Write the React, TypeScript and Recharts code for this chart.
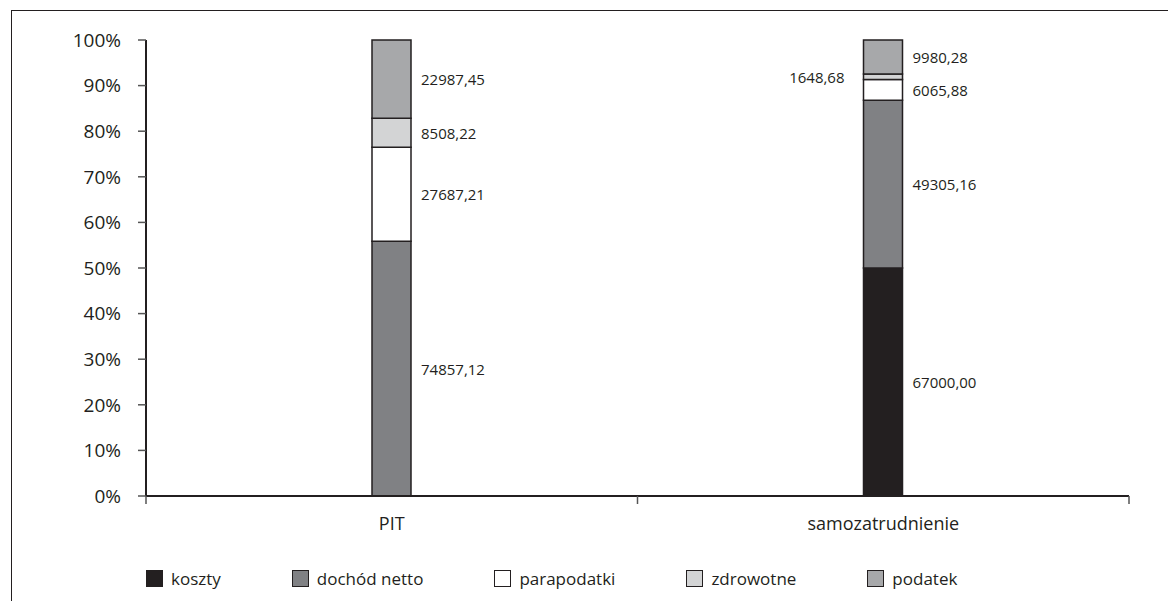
import React from 'react';
import { BarChart, Bar, XAxis, YAxis, Legend, LabelList } from 'recharts';

// Income split per form of employment (PLN)
const categories = ['PIT', 'samozatrudnienie'];
const koszty = [0, 67000.0];
const dochodNetto = [74857.12, 49305.16];
const parapodatki = [27687.21, 6065.88];
const zdrowotne = [8508.22, 1648.68];
const podatek = [22987.45, 9980.28];
const yTicks = [0, 0.1, 0.2, 0.3, 0.4, 0.5, 0.6, 0.7, 0.8, 0.9, 1];

const INK = '#231f20';
const FONT = '"Open Sans", "Noto Sans", sans-serif';

const series = [
  { key: 'koszty', name: 'koszty', values: koszty, fill: '#231f20' },
  { key: 'dochod', name: 'dochód netto', values: dochodNetto, fill: '#808184' },
  { key: 'para', name: 'parapodatki', values: parapodatki, fill: '#ffffff' },
  { key: 'zdr', name: 'zdrowotne', values: zdrowotne, fill: '#d3d4d5' },
  { key: 'pod', name: 'podatek', values: podatek, fill: '#a7a8aa' },
];

const data = categories.map((category, i) => {
  const row: Record<string, any> = { category };
  series.forEach((s) => {
    row[s.key] = s.values[i];
  });
  return row;
});

const WIDTH = 1160;
const HEIGHT = 593;
const MARGIN = { top: 32, right: 39, left: 58, bottom: 65 };
const Y_AXIS_WIDTH = 80;
const TICK_SIZE = 8;
const TICK_MARGIN = 13;

const fmt = (v: number) => v.toFixed(2).replace('.', ',');

// Value labels beside each segment; very thin segments get their label on the left
const SegmentLabel = (props: any) => {
  const vb = props.viewBox || props;
  const x = Number(vb.x ?? props.x);
  const y = Number(vb.y ?? props.y);
  const width = Number(vb.width ?? props.width);
  const height = Number(vb.height ?? props.height);
  const value = Number(props.value);
  if (!value) return null;
  const thin = Math.abs(height) < 10;
  const cy = y + height / 2;
  return (
    <text
      x={thin ? x - 19 : x + width + 10}
      y={cy}
      textAnchor={thin ? 'end' : 'start'}
      dominantBaseline="central"
      fontFamily={FONT}
      fontSize={15}
      fill={INK}
    >
      {fmt(value)}
    </text>
  );
};

// Category label plus tick marks on the category boundaries
const CategoryTick = (props: any) => {
  const { x, y, payload, index } = props;
  const plotWidth = WIDTH - MARGIN.left - MARGIN.right - Y_AXIS_WIDTH;
  const half =
    payload && typeof payload.offset === 'number' && payload.offset > 0
      ? payload.offset
      : plotWidth / categories.length / 2;
  const axisY = y - TICK_SIZE - TICK_MARGIN;
  return (
    <g>
      <line x1={x - half} x2={x - half} y1={axisY} y2={axisY + TICK_SIZE} stroke="#555" strokeWidth={1.5} />
      {index === categories.length - 1 && (
        <line x1={x + half} x2={x + half} y1={axisY} y2={axisY + TICK_SIZE} stroke="#555" strokeWidth={1.5} />
      )}
      <text x={x} y={y} dy="0.71em" textAnchor="middle" fontFamily={FONT} fontSize={18} fill={INK}>
        {payload.value}
      </text>
    </g>
  );
};

const renderLegend = () => (
  <div
    style={{
      display: 'flex',
      alignItems: 'center',
      gap: 71,
      fontFamily: FONT,
      fontSize: 17,
      color: INK,
      whiteSpace: 'nowrap',
    }}
  >
    {series.map((s) => (
      <div key={s.key} style={{ display: 'flex', alignItems: 'center' }}>
        <span
          style={{
            display: 'inline-block',
            width: 15,
            height: 15,
            background: s.fill,
            border: `1.5px solid ${INK}`,
            marginRight: 8,
          }}
        />
        <span>{s.name}</span>
      </div>
    ))}
  </div>
);

export default function App() {
  return (
    <div style={{ position: 'fixed', left: 0, top: 0, width: 1168, height: 601, overflow: 'hidden', background: '#fff' }}>
      {/* frame around the figure, open on the right and bottom */}
      <div
        style={{
          position: 'absolute',
          left: 11,
          top: 10,
          width: 1240,
          height: 680,
          border: `1.5px solid ${INK}`,
          boxSizing: 'border-box',
        }}
      />
      <div style={{ position: 'absolute', left: 8, top: 8 }}>
        <BarChart
          width={WIDTH}
          height={HEIGHT}
          data={data}
          margin={MARGIN}
          stackOffset="expand"
          barSize={39}
        >
          <XAxis
            dataKey="category"
            height={40}
            axisLine={{ stroke: INK, strokeWidth: 2 }}
            tickLine={false}
            tickSize={TICK_SIZE}
            tickMargin={TICK_MARGIN}
            tick={<CategoryTick />}
            interval={0}
          />
          <YAxis
            type="number"
            domain={[0, 1]}
            ticks={yTicks}
            width={Y_AXIS_WIDTH}
            tickFormatter={(v: number) => `${Math.round(v * 100)}%`}
            axisLine={{ stroke: INK, strokeWidth: 2 }}
            tickLine={{ stroke: '#555', strokeWidth: 1.5 }}
            tickSize={TICK_SIZE}
            tickMargin={17}
            tick={{ fontFamily: FONT, fontSize: 19, fill: INK }}
          />
          <Legend
            layout="horizontal"
            verticalAlign="middle"
            align="center"
            content={renderLegend}
            wrapperStyle={{ left: 138, top: 559, width: 'auto', height: 24 }}
          />
          {series.map((s) => (
            <Bar
              key={s.key}
              dataKey={s.key}
              name={s.name}
              stackId="a"
              fill={s.fill}
              stroke={INK}
              strokeWidth={1.5}
              isAnimationActive={false}
            >
              <LabelList dataKey={s.key} content={<SegmentLabel />} />
            </Bar>
          ))}
        </BarChart>
      </div>
    </div>
  );
}
